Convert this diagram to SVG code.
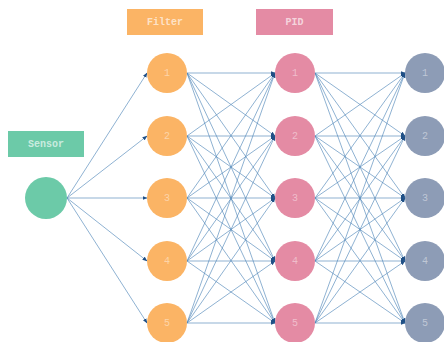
<svg xmlns="http://www.w3.org/2000/svg" width="444" height="342" viewBox="0 0 444 342">
<defs>
<marker id="arr" viewBox="0 0 10 10" refX="9" refY="5" markerWidth="5" markerHeight="5" orient="auto" markerUnits="userSpaceOnUse">
<path d="M0,1 L10,5 L0,9 Z" fill="#1f4f85"/>
</marker>
<style>
.lbl{font-family:"Liberation Mono","DejaVu Sans Mono",monospace;font-size:10px;font-weight:bold;fill:#ffffff;fill-opacity:0.65;text-anchor:middle;dominant-baseline:central}
.num{font-family:"Liberation Mono","DejaVu Sans Mono",monospace;font-size:10px;fill:#ffffff;fill-opacity:0.45;text-anchor:middle;dominant-baseline:central}
.e{stroke:#4f86b8;stroke-width:0.8;stroke-opacity:0.8;fill:none;marker-end:url(#arr)}
.f{fill:#fbb465}
.p{fill:#e48ba4}
.o{fill:#8d9cb6}
.s{fill:#6ccaa8}
</style>
</defs>
<rect width="444" height="342" fill="#ffffff"/>
<g id="connectors">
<line class="e" x1="67" y1="198" x2="147" y2="73"/>
<line class="e" x1="67" y1="198" x2="147" y2="136"/>
<line class="e" x1="67" y1="198" x2="147" y2="198"/>
<line class="e" x1="67" y1="198" x2="147" y2="261"/>
<line class="e" x1="67" y1="198" x2="147" y2="323"/>
<g id="fp">
<line class="e" x1="187" y1="73" x2="275" y2="73"/><line class="e" x1="187" y1="73" x2="275" y2="136"/><line class="e" x1="187" y1="73" x2="275" y2="198"/><line class="e" x1="187" y1="73" x2="275" y2="261"/><line class="e" x1="187" y1="73" x2="275" y2="323"/>
<line class="e" x1="187" y1="136" x2="275" y2="73"/><line class="e" x1="187" y1="136" x2="275" y2="136"/><line class="e" x1="187" y1="136" x2="275" y2="198"/><line class="e" x1="187" y1="136" x2="275" y2="261"/><line class="e" x1="187" y1="136" x2="275" y2="323"/>
<line class="e" x1="187" y1="198" x2="275" y2="73"/><line class="e" x1="187" y1="198" x2="275" y2="136"/><line class="e" x1="187" y1="198" x2="275" y2="198"/><line class="e" x1="187" y1="198" x2="275" y2="261"/><line class="e" x1="187" y1="198" x2="275" y2="323"/>
<line class="e" x1="187" y1="261" x2="275" y2="73"/><line class="e" x1="187" y1="261" x2="275" y2="136"/><line class="e" x1="187" y1="261" x2="275" y2="198"/><line class="e" x1="187" y1="261" x2="275" y2="261"/><line class="e" x1="187" y1="261" x2="275" y2="323"/>
<line class="e" x1="187" y1="323" x2="275" y2="73"/><line class="e" x1="187" y1="323" x2="275" y2="136"/><line class="e" x1="187" y1="323" x2="275" y2="198"/><line class="e" x1="187" y1="323" x2="275" y2="261"/><line class="e" x1="187" y1="323" x2="275" y2="323"/>
</g>
<g id="po">
<line class="e" x1="315" y1="73" x2="405" y2="73"/><line class="e" x1="315" y1="73" x2="405" y2="136"/><line class="e" x1="315" y1="73" x2="405" y2="198"/><line class="e" x1="315" y1="73" x2="405" y2="261"/><line class="e" x1="315" y1="73" x2="405" y2="323"/>
<line class="e" x1="315" y1="136" x2="405" y2="73"/><line class="e" x1="315" y1="136" x2="405" y2="136"/><line class="e" x1="315" y1="136" x2="405" y2="198"/><line class="e" x1="315" y1="136" x2="405" y2="261"/><line class="e" x1="315" y1="136" x2="405" y2="323"/>
<line class="e" x1="315" y1="198" x2="405" y2="73"/><line class="e" x1="315" y1="198" x2="405" y2="136"/><line class="e" x1="315" y1="198" x2="405" y2="198"/><line class="e" x1="315" y1="198" x2="405" y2="261"/><line class="e" x1="315" y1="198" x2="405" y2="323"/>
<line class="e" x1="315" y1="261" x2="405" y2="73"/><line class="e" x1="315" y1="261" x2="405" y2="136"/><line class="e" x1="315" y1="261" x2="405" y2="198"/><line class="e" x1="315" y1="261" x2="405" y2="261"/><line class="e" x1="315" y1="261" x2="405" y2="323"/>
<line class="e" x1="315" y1="323" x2="405" y2="73"/><line class="e" x1="315" y1="323" x2="405" y2="136"/><line class="e" x1="315" y1="323" x2="405" y2="198"/><line class="e" x1="315" y1="323" x2="405" y2="261"/><line class="e" x1="315" y1="323" x2="405" y2="323"/>
</g>
</g>
<g id="label-filter"><rect class="f" x="127" y="9" width="76" height="26"/><text class="lbl" x="165" y="22">Filter</text></g>
<g id="label-pid"><rect class="p" x="256" y="9" width="77" height="26"/><text class="lbl" x="294.5" y="22">PID</text></g>
<g id="label-sensor"><rect class="s" x="8" y="131" width="76" height="26"/><text class="lbl" x="46" y="144">Sensor</text></g>
<g id="sensor"><circle class="s" cx="46" cy="198" r="21"/></g>
<g id="filter1"><circle class="f" cx="167" cy="73" r="20"/><text class="num" x="167" y="73">1</text></g>
<g id="filter2"><circle class="f" cx="167" cy="136" r="20"/><text class="num" x="167" y="136">2</text></g>
<g id="filter3"><circle class="f" cx="167" cy="198" r="20"/><text class="num" x="167" y="198">3</text></g>
<g id="filter4"><circle class="f" cx="167" cy="261" r="20"/><text class="num" x="167" y="261">4</text></g>
<g id="filter5"><circle class="f" cx="167" cy="323" r="20"/><text class="num" x="167" y="323">5</text></g>
<g id="pid1"><circle class="p" cx="295" cy="73" r="20"/><text class="num" x="295" y="73">1</text></g>
<g id="pid2"><circle class="p" cx="295" cy="136" r="20"/><text class="num" x="295" y="136">2</text></g>
<g id="pid3"><circle class="p" cx="295" cy="198" r="20"/><text class="num" x="295" y="198">3</text></g>
<g id="pid4"><circle class="p" cx="295" cy="261" r="20"/><text class="num" x="295" y="261">4</text></g>
<g id="pid5"><circle class="p" cx="295" cy="323" r="20"/><text class="num" x="295" y="323">5</text></g>
<g id="out1"><circle class="o" cx="425" cy="73" r="20"/><text class="num" x="425" y="73">1</text></g>
<g id="out2"><circle class="o" cx="425" cy="136" r="20"/><text class="num" x="425" y="136">2</text></g>
<g id="out3"><circle class="o" cx="425" cy="198" r="20"/><text class="num" x="425" y="198">3</text></g>
<g id="out4"><circle class="o" cx="425" cy="261" r="20"/><text class="num" x="425" y="261">4</text></g>
<g id="out5"><circle class="o" cx="425" cy="323" r="20"/><text class="num" x="425" y="323">5</text></g>
</svg>
